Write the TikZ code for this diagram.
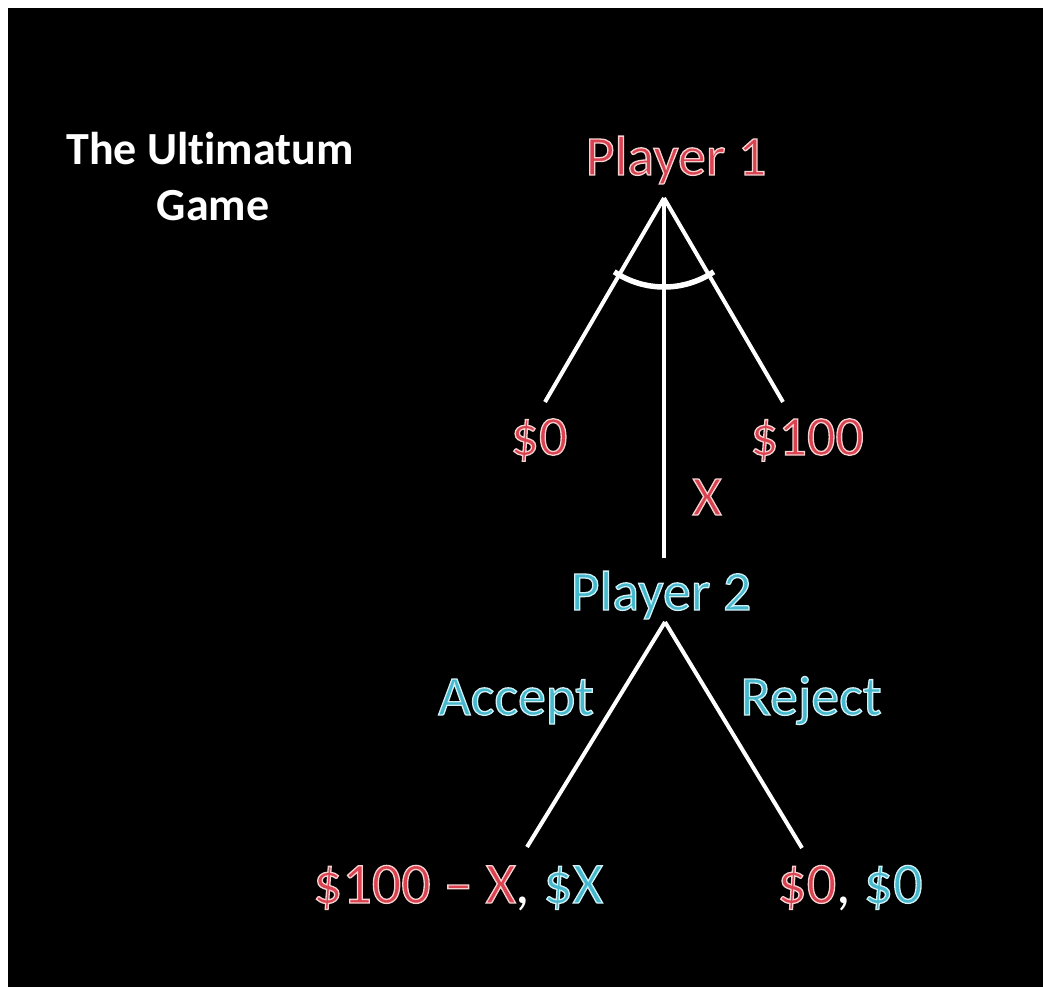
\documentclass[tikz,border=0pt]{standalone}
\usepackage{fontspec}
\setmainfont{Carlito}[Ligatures={TeX,NoCommon}]
\usetikzlibrary{positioning}

\definecolor{poneRed}{RGB}{218,66,80}
\definecolor{ptwoBlue}{RGB}{70,184,206}
% outlined text: fill in the current colour, light stroke round it
\newcommand{\pone}[1]{{\color{poneRed}\special{pdf:literal direct 2 Tr 1.3 w 0.97 0.82 0.82 RG}#1\special{pdf:literal direct 0 Tr}}}
\newcommand{\ptwo}[1]{{\color{ptwoBlue}\special{pdf:literal direct 2 Tr 1.3 w 0.81 0.94 0.96 RG}#1\special{pdf:literal direct 0 Tr}}}

\begin{document}
\begin{tikzpicture}[x=1pt, y=-1pt, inner sep=0pt,
  lbl/.style = {anchor=base, font=\fontsize{56}{60}\selectfont},
  pay/.style = {anchor=base, font=\fontsize{58}{62}\selectfont},
  head/.style = {anchor=base, text=white, font=\fontsize{46}{50}\selectfont\bfseries},
  branch/.style = {draw=white, line width=4pt},
  info/.style = {draw=white, line width=5.5pt}]
\useasboundingbox (0,0) rectangle (1043,987);
\fill[white] (0,0) rectangle (1043,987);
\fill[black] (8,8) rectangle (1043,987);

% title
\node[head] (t1) at (210,165) {The Ultimatum};
\node[head] (t2) at (213,220) {Game};

% first move
\node[lbl] (p1) at (676,175) {\pone{Player 1}};
\node[lbl] (d0) at (539,455) {\pone{\$0}};
\node[lbl] (d100) at (807,455) {\pone{\$100}};
\node[lbl] (dx) at (707,515) {\pone{X}};
\coordinate (r1) at (664,198);
\coordinate (e0) at (545,402);
\coordinate (e100) at (783,402);
\coordinate (ex) at (664,558);

% second move
\node[lbl] (p2) at (661,610) {\ptwo{Player 2}};
\node[lbl] (acc) at (516,715) {\ptwo{Accept}};
\node[lbl] (rej) at (811,715) {\ptwo{Reject}};
\coordinate (r2) at (665,622);
\coordinate (ea) at (527,847);
\coordinate (er) at (802,848);

% payoffs
\node[pay] (pa) at (458,903) {\pone{\$100 – X}{\color{white},} \ptwo{\$X}};
\node[pay] (pr) at (850,903) {\pone{\$0}{\color{white},} \ptwo{\$0}};

\draw[branch] (r1) -- (e0);
\draw[branch] (r1) -- (e100);
\draw[branch] (r1) -- (ex);
\draw[info] (r1) ++(236:89pt) arc[start angle=236, end angle=304, radius=89pt];
\draw[branch] (r2) -- (ea);
\draw[branch] (r2) -- (er);

\end{tikzpicture}
\end{document}
